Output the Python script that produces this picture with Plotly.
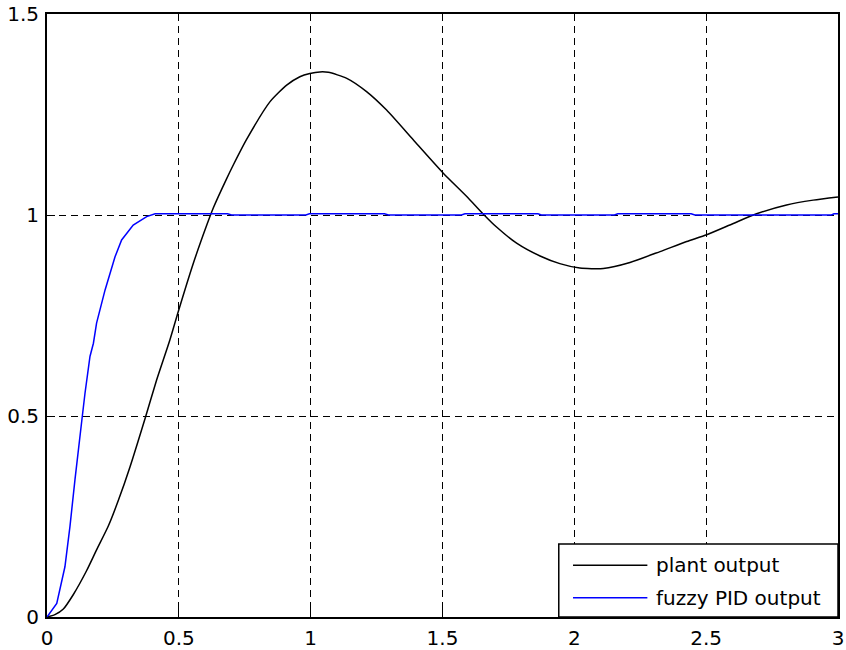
import plotly.graph_objects as go

# ---- data ----
plant_t = [0.0, 0.03, 0.062, 0.10, 0.15, 0.188, 0.233, 0.27, 0.315, 0.372, 0.416, 0.466,
           0.498, 0.555, 0.606, 0.631, 0.681, 0.707, 0.757, 0.846, 0.909, 0.959, 0.997,
           1.035, 1.067, 1.137, 1.212, 1.288, 1.389, 1.503, 1.592, 1.655, 1.705, 1.781,
           1.870, 1.945, 2.021, 2.110, 2.211, 2.325, 2.426, 2.502, 2.603, 2.691, 2.805,
           2.906, 3.0]
plant_y = [0.0, 0.006, 0.020, 0.056, 0.115, 0.167, 0.227, 0.289, 0.374, 0.494, 0.590, 0.689,
           0.760, 0.880, 0.975, 1.018, 1.090, 1.125, 1.188, 1.282, 1.323, 1.344, 1.352,
           1.356, 1.355, 1.340, 1.307, 1.261, 1.187, 1.104, 1.046, 1.002, 0.970, 0.930,
           0.898, 0.879, 0.868, 0.867, 0.882, 0.909, 0.934, 0.951, 0.979, 1.003, 1.025,
           1.037, 1.045]

fuzzy_t = [0.0, 0.037, 0.068, 0.087, 0.106, 0.125, 0.134, 0.144, 0.163, 0.176, 0.188,
           0.22, 0.258, 0.283, 0.327, 0.378, 0.41, 0.685, 0.70, 0.982, 0.995, 1.28, 1.295,
           1.572, 1.585, 1.862, 1.875, 2.152, 2.165, 2.443, 2.457, 2.975, 2.985, 3.0]
fuzzy_y = [0.0, 0.034, 0.125, 0.225, 0.341, 0.440, 0.500, 0.556, 0.648, 0.681, 0.731,
           0.813, 0.896, 0.938, 0.975, 0.996, 1.003, 1.003, 1.0, 1.0, 1.003, 1.003, 1.0,
           1.0, 1.003, 1.003, 1.0, 1.0, 1.003, 1.003, 1.0, 1.0, 1.003, 1.003]

x_ticks = [0, 0.5, 1, 1.5, 2, 2.5, 3]
x_ticktext = ["0", "0.5", "1", "1.5", "2", "2.5", "3"]
y_ticks = [0, 0.5, 1, 1.5]
y_ticktext = ["0", "0.5", "1", "1.5"]

series_names = ["plant output", "fuzzy PID output"]
series_colors = ["#000000", "#0000ff"]

FONT = "DejaVu Sans, Arial, sans-serif"

fig = go.Figure()
fig.add_trace(go.Scatter(x=plant_t, y=plant_y, mode="lines", name=series_names[0],
                         line=dict(color=series_colors[0], width=1.5, shape="spline", smoothing=0.6),
                         showlegend=False))
fig.add_trace(go.Scatter(x=fuzzy_t, y=fuzzy_y, mode="lines", name=series_names[1],
                         line=dict(color=series_colors[1], width=1.5), showlegend=False))

axis_common = dict(
    showline=True, mirror=True, linecolor="black", linewidth=2,
    showgrid=True, gridcolor="black", gridwidth=1, griddash="7px,5px",
    zeroline=False, ticks="inside", ticklen=8, tickcolor="black", tickwidth=1,
    automargin=False, ticklabeloverflow="allow",
    tickfont=dict(family=FONT, size=20, color="black"),
)
fig.update_xaxes(range=[0, 3], tickvals=x_ticks, ticktext=x_ticktext, ticklabelstandoff=2, **axis_common)
fig.update_yaxes(range=[0, 1.5], tickvals=y_ticks, ticktext=y_ticktext, ticklabelstandoff=2, **axis_common)

# manual MATLAB-style legend box (bottom right, paper coords)
lx0, lx1 = 0.647, 1.0
ly0, ly1 = 0.0, 0.121
shapes = [dict(type="rect", xref="paper", yref="paper", x0=lx0, x1=lx1, y0=ly0, y1=ly1,
               line=dict(color="black", width=1.5), fillcolor="white", layer="above")]
annotations = []
rows_y = [0.086, 0.032]
for name, col, yy in zip(series_names, series_colors, rows_y):
    shapes.append(dict(type="line", xref="paper", yref="paper", x0=0.665, x1=0.759, y0=yy, y1=yy,
                       line=dict(color=col, width=1.5), layer="above"))
    annotations.append(dict(xref="paper", yref="paper", x=0.767, y=yy, text=name,
                            showarrow=False, xanchor="left", yanchor="middle",
                            font=dict(family=FONT, size=20, color="black")))

fig.update_layout(
    width=846, height=650,
    margin=dict(l=47, r=8, t=14, b=33),
    paper_bgcolor="white", plot_bgcolor="white",
    shapes=shapes, annotations=annotations,
    showlegend=False,
)

fig.write_html("out.html", config={"displayModeBar": False},
               post_script="document.body.style.margin='0';document.body.style.overflow='hidden';")
